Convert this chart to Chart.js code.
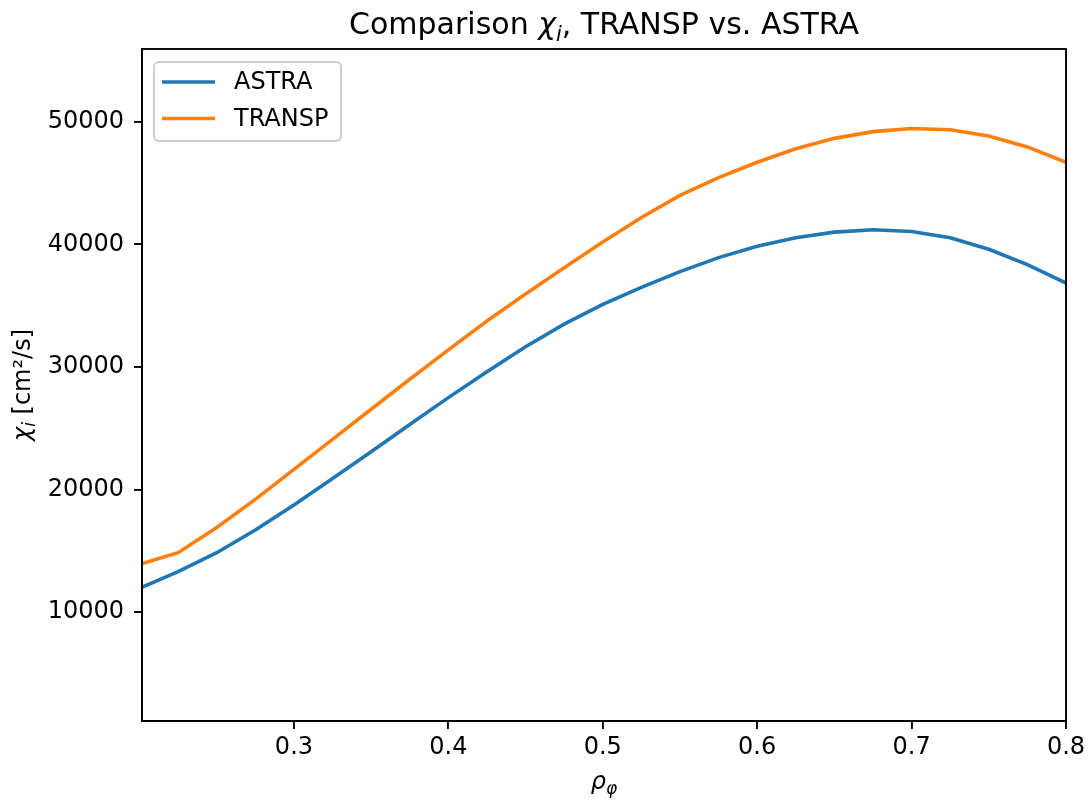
<!DOCTYPE html>
<html lang="en">
<head>
  <meta charset="UTF-8" />
  <title>Comparison chi_i, TRANSP vs. ASTRA</title>
  <script src="https://cdn.jsdelivr.net/npm/chart.js"></script>
  <style>
    body {
      margin: 0;
      background: #fff;
    }
    #chiChart {
      display: block;
    }
  </style>
</head>
<body>
  <canvas id="chiChart" width="1091" height="803"></canvas>
  <script>
    // radial coordinate rho_phi
    const rho = [0.2, 0.225, 0.25, 0.275, 0.3, 0.325, 0.35, 0.375, 0.4, 0.425, 0.45, 0.475,
                 0.5, 0.525, 0.55, 0.575, 0.6, 0.625, 0.65, 0.675, 0.7, 0.725, 0.75, 0.775, 0.8];
    // chi_i in cm^2/s
    const astra = [11950, 13300, 14850, 16700, 18750, 20900, 23080, 25300, 27500, 29620, 31650, 33500,
                   35100, 36500, 37780, 38920, 39850, 40550, 41000, 41200, 41050, 40550, 39600, 38350, 36850];
    const transp = [13900, 14850, 16900, 19200, 21650, 24100, 26550, 29000, 31400, 33750, 35950, 38100,
                    40200, 42200, 44000, 45450, 46700, 47800, 48650, 49200, 49450, 49350, 48850, 47950, 46700];
    const xTicks = [0.3, 0.4, 0.5, 0.6, 0.7, 0.8];
    const yTicks = [10000, 20000, 30000, 40000, 50000];

    const FONT = '"DejaVu Sans", sans-serif';

    // text with italic symbols and subscripts, like matplotlib mathtext
    function drawMath(ctx, parts, x, y, size) {
      const fontOf = p => (p.it ? 'italic ' : '') + Math.round(p.sub ? size * 0.7 : size) + 'px ' + FONT;
      let total = 0;
      parts.forEach(p => { ctx.font = fontOf(p); total += ctx.measureText(p.t).width; });
      let cx = x - total / 2;
      ctx.textAlign = 'left';
      ctx.textBaseline = 'alphabetic';
      parts.forEach(p => {
        ctx.font = fontOf(p);
        ctx.fillText(p.t, cx, y + (p.sub ? size * 0.22 : 0));
        cx += ctx.measureText(p.t).width;
      });
    }

    const decor = {
      id: 'decor',
      afterDraw(chart) {
        const ctx = chart.ctx;
        const a = chart.chartArea;
        ctx.save();
        // frame
        ctx.strokeStyle = '#000';
        ctx.lineWidth = 1.9;
        ctx.strokeRect(a.left, a.top, a.right - a.left, a.bottom - a.top);

        ctx.fillStyle = '#000';
        drawMath(ctx, [{t: 'Comparison '}, {t: 'χ', it: true}, {t: 'i', it: true, sub: true},
                       {t: ', TRANSP vs. ASTRA'}], (a.left + a.right) / 2, 34, 30);
        drawMath(ctx, [{t: 'ρ', it: true}, {t: 'φ', it: true, sub: true}], (a.left + a.right) / 2, 789, 24);
        ctx.save();
        ctx.translate(30, (a.top + a.bottom) / 2);
        ctx.rotate(-Math.PI / 2);
        drawMath(ctx, [{t: 'χ', it: true}, {t: 'i', it: true, sub: true}, {t: ' [cm²/s]'}], 0, 0, 24);
        ctx.restore();

        // legend
        const lx = a.left + 12, ly = a.top + 13, lw = 187, lh = 79;
        ctx.beginPath();
        ctx.roundRect(lx, ly, lw, lh, 5);
        ctx.fillStyle = 'rgba(255,255,255,0.8)';
        ctx.fill();
        ctx.strokeStyle = '#cccccc';
        ctx.lineWidth = 1.9;
        ctx.stroke();
        chart.data.datasets.forEach((ds, i) => {
          const yy = ly + 20 + i * 36.5;
          ctx.beginPath();
          ctx.moveTo(lx + 8, yy);
          ctx.lineTo(lx + 61, yy);
          ctx.strokeStyle = ds.borderColor;
          ctx.lineWidth = 3.6;
          ctx.stroke();
          ctx.fillStyle = '#000';
          ctx.font = '24px ' + FONT;
          ctx.textAlign = 'left';
          ctx.textBaseline = 'middle';
          ctx.fillText(ds.label, lx + 80, yy + 1);
        });
        ctx.restore();
      }
    };

    const ctx1 = document.getElementById('chiChart').getContext('2d');
    new Chart(ctx1, {
      type: 'line',
      data: {
        datasets: [
          {
            label: 'ASTRA',
            data: rho.map((r, i) => ({x: r, y: astra[i]})),
            borderColor: '#1f77b4',
            backgroundColor: '#1f77b4',
            borderWidth: 3.6,
            pointRadius: 0,
            tension: 0,
            clip: 0
          },
          {
            label: 'TRANSP',
            data: rho.map((r, i) => ({x: r, y: transp[i]})),
            borderColor: '#ff7f0e',
            backgroundColor: '#ff7f0e',
            borderWidth: 3.6,
            pointRadius: 0,
            tension: 0,
            clip: 0
          }
        ]
      },
      options: {
        responsive: false,
        animation: false,
        devicePixelRatio: 1,
        layout: { padding: { left: 0, top: 49, right: 25, bottom: 0 } },
        plugins: {
          legend: { display: false },
          title: { display: false },
          tooltip: { enabled: false }
        },
        scales: {
          x: {
            type: 'linear',
            min: 0.2016,
            max: 0.8,
            afterBuildTicks: s => { s.ticks = xTicks.map(v => ({value: v})); },
            afterFit: s => { s.height = 82; },
            grid: { drawOnChartArea: false, color: '#000', lineWidth: 1.9, tickLength: 8 },
            border: { display: true, color: '#000', width: 1.9 },
            ticks: {
              color: '#000',
              padding: 4,
              font: { family: FONT, size: 24 },
              callback: v => v.toFixed(1)
            }
          },
          y: {
            type: 'linear',
            min: 1120,
            max: 55940,
            afterBuildTicks: s => { s.ticks = yTicks.map(v => ({value: v})); },
            afterFit: s => { s.width = 142; },
            grid: { drawOnChartArea: false, color: '#000', lineWidth: 1.9, tickLength: 8 },
            border: { display: true, color: '#000', width: 1.9 },
            ticks: {
              color: '#000',
              padding: 10,
              font: { family: FONT, size: 24 },
              callback: v => String(v)
            }
          }
        }
      },
      plugins: [decor]
    });
  </script>
</body>
</html>
